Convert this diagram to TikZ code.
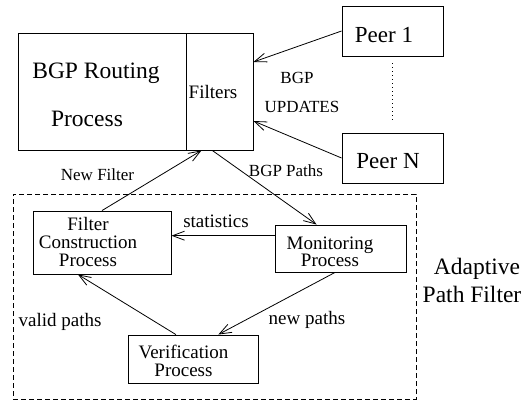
\documentclass[tikz,border=0pt]{standalone}
\usepackage{fontspec}
\setmainfont{Liberation Serif}
\usetikzlibrary{arrows.meta}

\tikzstyle{box}=[draw,line width=0.9pt,rectangle,inner sep=0pt]
\tikzstyle{flow} = [draw,line width=0.8pt,-{Straight Barb[length=12pt,width=9pt,line width=0.8pt]}]
\tikzstyle{huge} = [font=\fontsize{23.5}{25}\selectfont,anchor=base,inner sep=0pt]
\tikzstyle{peer} = [font=\fontsize{23}{25}\selectfont,anchor=base,inner sep=0pt]
\tikzstyle{mid} = [font=\fontsize{19}{20}\selectfont,anchor=base,inner sep=0pt]
\tikzstyle{small} = [font=\fontsize{17}{18}\selectfont,anchor=base,inner sep=0pt]
\tikzstyle{inbox} = [anchor=north,inner sep=0pt,align=center]
\newcommand{\apfunit}{1pt}
\newcommand{\tightskip}{\lineskiplimit=-20pt\relax}

\begin{document}
\begin{tikzpicture}[x=\apfunit, y=-\apfunit]
    \useasboundingbox (0,0) rectangle (525,402);
    % First we draw the boxes
    \foreach \pos/\name/\w/\h in {{(102,91.5)/routing/168/117}, {(219.5,91.5)/filters/67/117},
            {(392.5,31)/peerone/101/50}, {(392.5,158)/peern/101/50},
            {(102,242.5)/fc/138/63}, {(340.5,248.5)/mon/131/47}, {(193,359)/ver/130/48}}
        \node[box, minimum width=\w, minimum height=\h] (\name) at \pos {};
    \node[box, dashed, dash pattern=on 5pt off 3pt, minimum width=403, minimum height=205] (apf) at (214.5,296.5) {};

    % Then the texts, placed at their baselines
    \foreach \pos/\name/\sty/\text in {{(96,78.3)/bgpa/huge/BGP Routing}, {(87,126)/bgpb/huge/Process},
            {(213,98.3)/filt/mid/Filters},
            {(384,42.3)/peeronetxt/peer/Peer 1}, {(388,168.3)/peerntxt/peer/Peer N},
            {(297,83.3)/updatea/small/BGP}, {(302,112.7)/updateb/small/UPDATES},
            {(97.5,180)/newfilt/small/New Filter}, {(286,176.7)/bgppaths/small/BGP Paths},
            {(216,227.3)/stats/mid/statistics},
            {(60,326)/valid/mid/valid paths}, {(307,324)/newpaths/mid/new paths},
            {(477,274)/apfa/huge/Adaptive}, {(472,302.7)/apfb/huge/Path Filter}}
        \node[\sty] (\name) at \pos {\text};

    % Texts inside the process boxes
    \node[inbox, font=\fontsize{19}{18}\selectfont\tightskip] (fctxt) at (88,217) {Filter\\Construction\\Process};
    \node[inbox, font=\fontsize{19}{17.5}\selectfont\tightskip] (montxt) at (330,236.5) {Monitoring\\Process};
    \node[inbox, font=\fontsize{19}{17.4}\selectfont\tightskip] (vertxt) at (183.5,345.3) {Verification\\Process};

    % Connect the boxes
    \path[flow] (peerone.west) -- (filters.41);
    \path[flow] (peern.west) -- (filters.-41);
    \path[flow] (fc.north) -- (filters.253);
    \path[flow] (filters.263) -- (mon.135);
    \path[flow] (mon.169) -- (mon.169 -| fc.east);
    \path[flow] (mon.257) -- (ver.44);
    \path[flow] (ver.125) -- (fc.233);

    \path[draw, line width=0.6pt, dash pattern=on 0.8pt off 3.2pt, shorten <=7pt, shorten >=10pt] (peerone.south) -- (peern.north);
\end{tikzpicture}
\end{document}
